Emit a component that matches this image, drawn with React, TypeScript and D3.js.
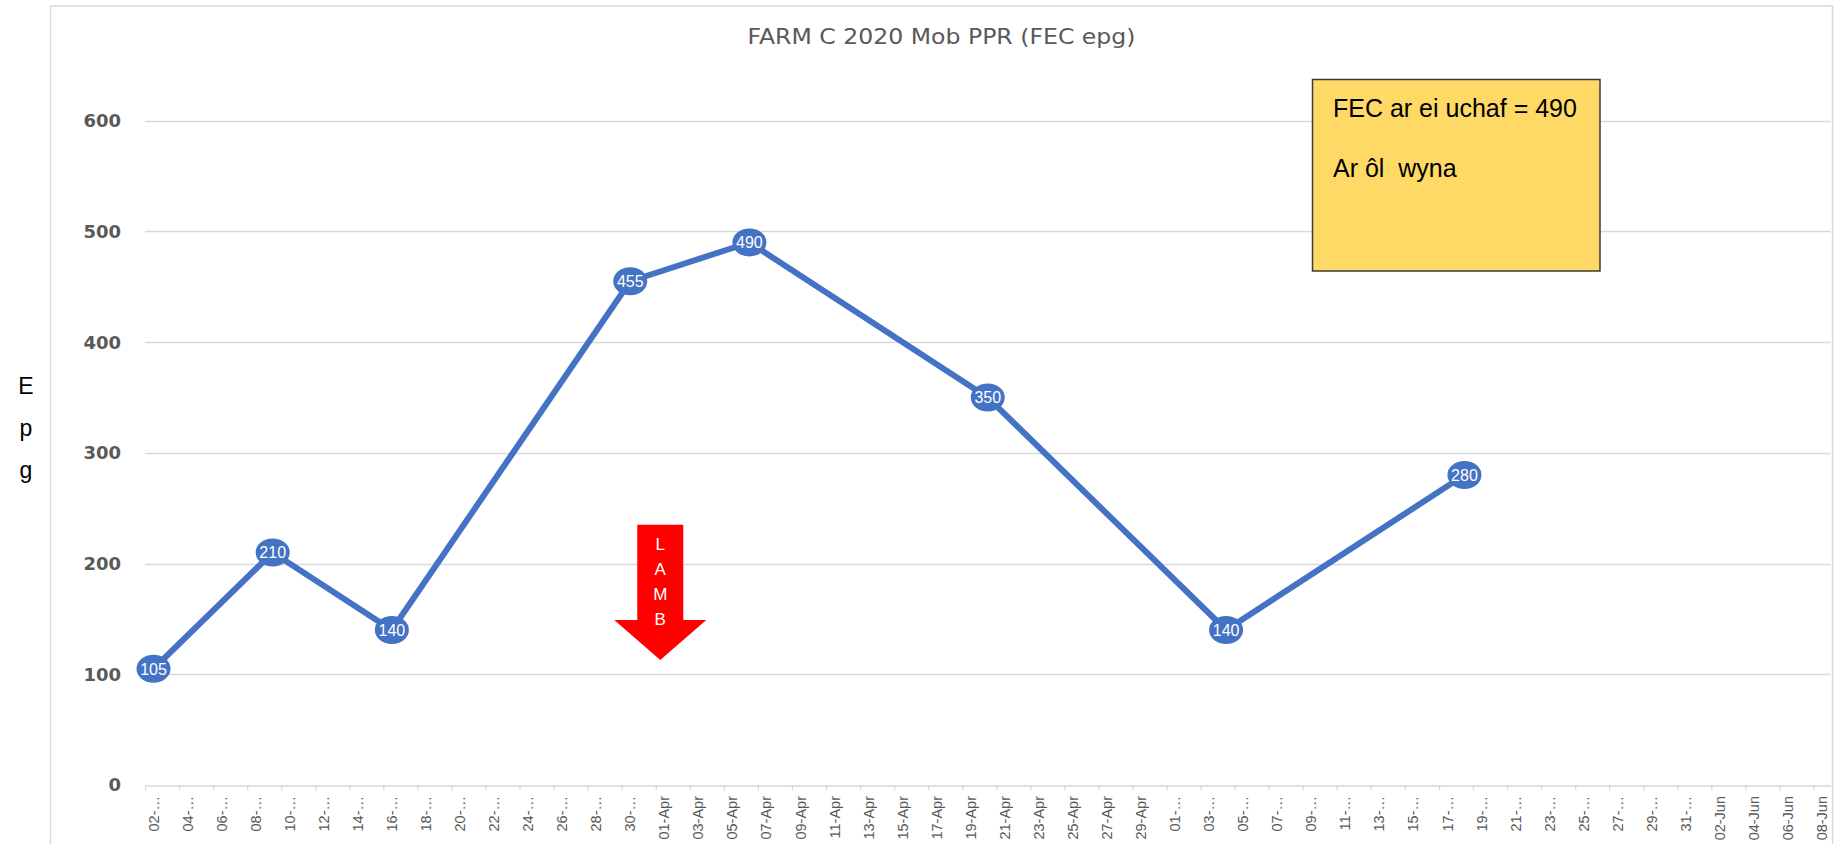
import React, { useRef, useEffect } from "react";
import * as d3 from "d3";

// sample dates (2020) and FEC values
const sampleDates = ["2020-03-02", "2020-03-09", "2020-03-16", "2020-03-30", "2020-04-06", "2020-04-20", "2020-05-04", "2020-05-18"];
const fecValues = [105, 210, 140, 455, 490, 350, 140, 280];
const yTicks = [0, 100, 200, 300, 400, 500, 600];
const axisStart = "2020-03-02";
const axisEnd = "2020-06-09";
const lambDate = "2020-04-01";
const lambLetters = ["L", "A", "M", "B"];
const noteLines = ["FEC ar ei uchaf = 490", "Ar ôl  wyna"];
const title = "FARM C 2020 Mob PPR (FEC epg)";
const yTitle = ["E", "p", "g"];

const W = 1843;
const H = 844;
const margin = { top: 120.7, right: 12, bottom: 59, left: 145 };

const App: React.FC = () => {
  const svgRef = useRef<SVGSVGElement>(null);

  useEffect(() => {
    if (!svgRef.current) return;
    const svg = d3.select(svgRef.current);
    svg.selectAll("*").remove();

    const parse = (s: string) => new Date(s + "T00:00:00Z");
    const day = 24 * 3600 * 1000;
    const x0 = margin.left;
    const x1 = W - margin.right - 0.5;
    const y0 = H - margin.bottom;
    const y1 = margin.top;

    const x = d3.scaleUtc().domain([parse(axisStart), parse(axisEnd)]).range([x0, x1]);
    const y = d3.scaleLinear().domain([0, 600]).range([y0, y1]);
    const mid = (s: string) => x(new Date(parse(s).getTime() + day / 2));

    const grey = "#595959";
    const gridColor = "#d9d9d9";
    const blue = "#4472C4";

    svg.append("rect").attr("width", W).attr("height", H).attr("fill", "#fff");
    // chart area border
    svg
      .append("rect")
      .attr("x", 50.5)
      .attr("y", 6)
      .attr("width", 1782)
      .attr("height", 860)
      .attr("fill", "none")
      .attr("stroke", gridColor)
      .attr("stroke-width", 1.5);

    // title
    svg
      .append("text")
      .attr("x", 941.5)
      .attr("y", 44)
      .attr("text-anchor", "middle")
      .attr("font-family", "DejaVu Sans")
      .attr("font-size", 21)
      .attr("textLength", 388)
      .attr("lengthAdjust", "spacingAndGlyphs")
      .attr("fill", grey)
      .text(title);

    // y axis title
    const yt = svg
      .append("text")
      .attr("font-family", "Liberation Sans")
      .attr("font-size", 23)
      .attr("fill", "#000")
      .attr("text-anchor", "middle");
    yTitle.forEach((c, i) => {
      yt.append("tspan").attr("x", 26).attr("y", 394 + i * 42).text(c);
    });

    // gridlines
    svg
      .append("g")
      .selectAll("line")
      .data(yTicks.filter((t) => t > 0))
      .join("line")
      .attr("x1", x0)
      .attr("x2", x1)
      .attr("y1", (d) => Math.round(y(d)) + 0.5)
      .attr("y2", (d) => Math.round(y(d)) + 0.5)
      .attr("stroke", gridColor)
      .attr("stroke-width", 1.3);

    // y labels
    svg
      .append("g")
      .selectAll("text")
      .data(yTicks)
      .join("text")
      .attr("x", 121)
      .attr("y", (d) => y(d))
      .attr("dy", "0.36em")
      .attr("text-anchor", "end")
      .attr("font-family", "DejaVu Sans")
      .attr("font-weight", "bold")
      .attr("font-size", 18)
      .attr("fill", grey)
      .text((d) => d);

    // x axis
    const tickDates = d3.utcDay.range(parse(axisStart), parse(axisEnd), 2);
    const xAxis = svg
      .append("g")
      .attr("transform", `translate(0,${Math.round(y0) + 0.5})`)
      .call(
        d3
          .axisBottom(x)
          .tickValues(tickDates)
          .tickSize(5)
          .tickSizeOuter(0)
          .tickFormat(() => "")
      );
    xAxis.select(".domain").attr("stroke", gridColor).attr("stroke-width", 1.3);
    xAxis.selectAll(".tick line").attr("stroke", gridColor).attr("stroke-width", 1.3);

    const fmt = d3.utcFormat("%d-%b");
    const fmtShort = d3.utcFormat("%d-");
    svg
      .append("g")
      .selectAll("text")
      .data(tickDates)
      .join("text")
      .attr(
        "transform",
        (d) => `translate(${x(new Date(d.getTime() + day / 2))},${y0 + 11}) rotate(-90)`
      )
      .attr("text-anchor", "end")
      .attr("dy", "0.35em")
      .attr("font-family", "Liberation Sans")
      .attr("font-size", 14.5)
      .attr("fill", grey)
      .text((d) => {
        const m = d.getUTCMonth();
        return m === 2 || m === 4 ? fmtShort(d) + "…" : fmt(d);
      });

    // series line
    const pts = sampleDates.map((d, i) => ({ date: d, value: fecValues[i] }));
    const line = d3
      .line<{ date: string; value: number }>()
      .x((d) => mid(d.date))
      .y((d) => y(d.value));
    svg
      .append("path")
      .datum(pts)
      .attr("d", line)
      .attr("fill", "none")
      .attr("stroke", blue)
      .attr("stroke-width", 6)
      .attr("stroke-linejoin", "round")
      .attr("stroke-linecap", "round");

    // data label bubbles
    const lbl = svg
      .append("g")
      .selectAll("g")
      .data(pts)
      .join("g")
      .attr("transform", (d) => `translate(${mid(d.date)},${y(d.value)})`);
    lbl.append("ellipse").attr("rx", 17).attr("ry", 14).attr("fill", blue);
    lbl
      .append("text")
      .attr("text-anchor", "middle")
      .attr("dy", "0.36em")
      .attr("font-family", "Liberation Sans")
      .attr("font-size", 16)
      .attr("fill", "#fff")
      .text((d) => d.value);

    // LAMB arrow
    const ax = mid(lambDate) - 4;
    const top = y(235);
    const neck = y(149);
    const tip = y(113);
    const bw = 23;
    const hw = 46;
    svg
      .append("path")
      .attr(
        "d",
        `M${ax - bw},${top}H${ax + bw}V${neck}H${ax + hw}L${ax},${tip}L${ax - hw},${neck}H${ax - bw}Z`
      )
      .attr("fill", "#ff0000");
    svg
      .append("g")
      .selectAll("text")
      .data(lambLetters)
      .join("text")
      .attr("x", ax)
      .attr("y", (_, i) => top + 19 + i * 25)
      .attr("dy", "0.36em")
      .attr("text-anchor", "middle")
      .attr("font-family", "Liberation Sans")
      .attr("font-size", 17)
      .attr("fill", "#fff")
      .text((d) => d);

    // note box
    svg
      .append("rect")
      .attr("x", 1312.5)
      .attr("y", 79.5)
      .attr("width", 287.5)
      .attr("height", 191.5)
      .attr("fill", "#FFD966")
      .attr("stroke", "#3a3a3a")
      .attr("stroke-width", 1.5);
    svg
      .append("g")
      .selectAll("text")
      .data(noteLines)
      .join("text")
      .attr("x", 1333)
      .attr("y", (_, i) => 116.5 + i * 60)
      .attr("font-family", "Liberation Sans")
      .attr("font-size", 25)
      .attr("fill", "#000")
      .style("white-space", "pre")
      .text((d) => d);
  }, []);

  return (
    <svg
      ref={svgRef}
      width={W}
      height={H}
      style={{ position: "absolute", left: 0, top: 0 }}
    ></svg>
  );
};

export default App;
